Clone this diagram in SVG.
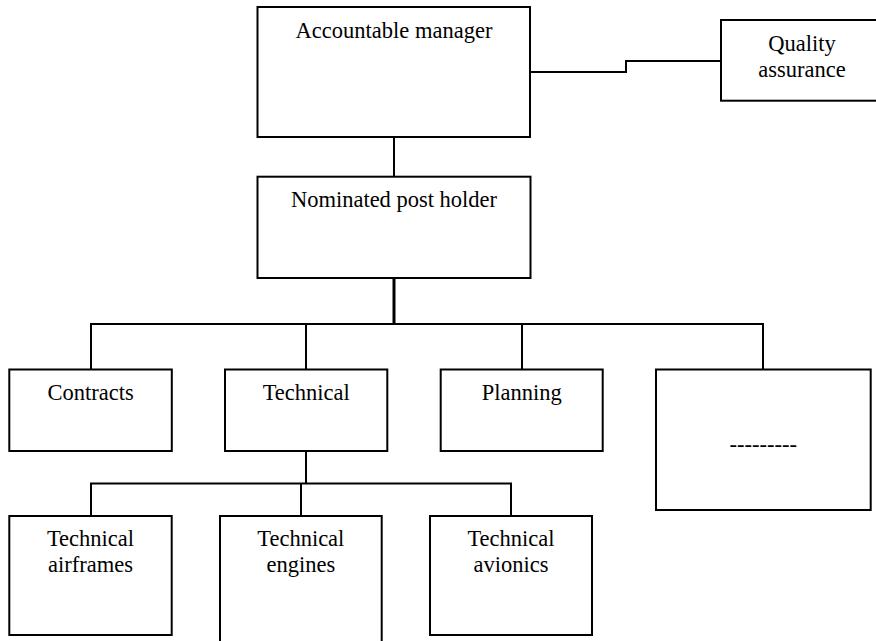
<svg xmlns="http://www.w3.org/2000/svg" width="876" height="641" viewBox="0 0 876 641">
<style>
.box{fill:#fff;stroke:#000;stroke-width:2}
.t{font-family:"Liberation Serif","Times New Roman",serif;font-size:22.5px;fill:#000;text-anchor:middle}
.c{fill:none;stroke:#000;stroke-width:2}
.thick{stroke-width:3}
</style>
<rect width="876" height="641" fill="#fff"/>
<g id="connectors">
<polyline class="c" points="530,72 626,72 626,61 721,61"/>
<line class="c" x1="394" y1="137" x2="394" y2="177"/>
<line class="c thick" x1="394" y1="278" x2="394" y2="324"/>
<polyline class="c" points="91,370 91,324 763,324 763,370"/>
<line class="c" x1="306" y1="324" x2="306" y2="370"/>
<line class="c" x1="522" y1="324" x2="522" y2="370"/>
<line class="c" x1="306" y1="451" x2="306" y2="484"/>
<polyline class="c" points="91,516 91,483.5 511,483.5 511,516"/>
<line class="c" x1="301" y1="483.5" x2="301" y2="516"/>
</g>
<g id="accountable-manager">
<rect class="box" x="257.5" y="7" width="272.5" height="130"/>
<text class="t" x="394" y="37.7">Accountable manager</text>
</g>
<g id="quality-assurance">
<rect class="box" x="721" y="20" width="163" height="80.7"/>
<text class="t" x="802" y="50.7">Quality</text>
<text class="t" x="802" y="76.7">assurance</text>
</g>
<g id="nominated-post-holder">
<rect class="box" x="257.5" y="176.7" width="273" height="101.3"/>
<text class="t" x="394" y="206.7">Nominated post holder</text>
</g>
<g id="contracts">
<rect class="box" x="9.3" y="369.5" width="162.5" height="81.5"/>
<text class="t" x="90.7" y="400">Contracts</text>
</g>
<g id="technical">
<rect class="box" x="225" y="369.5" width="162.3" height="81.5"/>
<text class="t" x="306.2" y="400">Technical</text>
</g>
<g id="planning">
<rect class="box" x="440.7" y="369.5" width="162" height="81.5"/>
<text class="t" x="521.7" y="400">Planning</text>
</g>
<g id="other">
<rect class="box" x="656" y="369.5" width="214.7" height="140.5"/>
<text class="t" x="763.3" y="451.7">---------</text>
</g>
<g id="technical-airframes">
<rect class="box" x="9.3" y="516" width="162.4" height="119"/>
<text class="t" x="90.5" y="546">Technical</text>
<text class="t" x="90.5" y="572">airframes</text>
</g>
<g id="technical-engines">
<rect class="box" x="220" y="516" width="161.7" height="130"/>
<text class="t" x="300.8" y="546">Technical</text>
<text class="t" x="300.8" y="572">engines</text>
</g>
<g id="technical-avionics">
<rect class="box" x="430" y="516" width="162" height="119"/>
<text class="t" x="511" y="546">Technical</text>
<text class="t" x="511" y="572">avionics</text>
</g>
</svg>
